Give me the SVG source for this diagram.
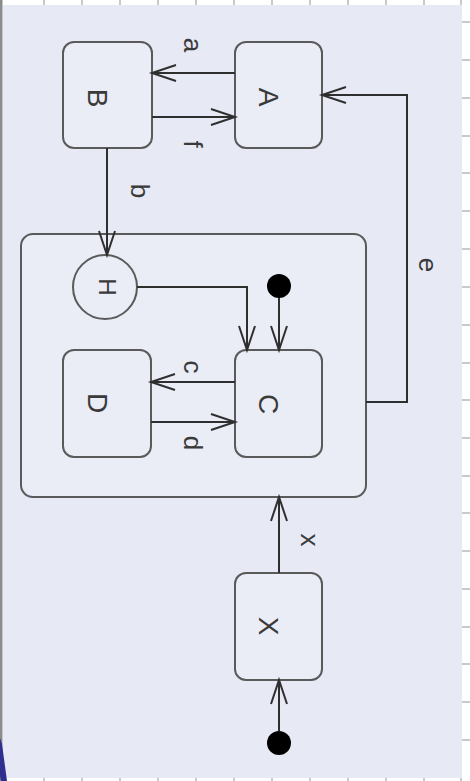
<svg xmlns="http://www.w3.org/2000/svg" width="470" height="781" viewBox="0 0 470 781">
<style>
.node{fill:#EAECF6;stroke:#5a5a5a;stroke-width:2}
.edge{fill:none;stroke:#2f2f2f;stroke-width:2}
.lbl{font-family:"Liberation Sans",Arial,sans-serif;fill:#3a3a3a;text-anchor:middle}
.nl{font-size:28px}
.el{font-size:26px}
.tick{stroke:#c9c9c9;stroke-width:2}
</style>
<defs>
<marker id="v" markerUnits="userSpaceOnUse" markerWidth="30" markerHeight="24" refX="26" refY="10" orient="auto" viewBox="0 0 30 20">
<path d="M2,2 L26,10 L2,18" fill="none" stroke="#2f2f2f" stroke-width="2"/>
</marker>
</defs>
<rect x="0" y="0" width="470" height="781" fill="#ffffff"/>
<rect x="3" y="5" width="459" height="773" fill="#E7E9F4"/>
<g id="grid">
<line class="tick" x1="44" y1="0" x2="44" y2="5"/><line class="tick" x1="82" y1="0" x2="82" y2="5"/><line class="tick" x1="120" y1="0" x2="120" y2="5"/><line class="tick" x1="158" y1="0" x2="158" y2="5"/><line class="tick" x1="196" y1="0" x2="196" y2="5"/><line class="tick" x1="234" y1="0" x2="234" y2="5"/><line class="tick" x1="272" y1="0" x2="272" y2="5"/><line class="tick" x1="310" y1="0" x2="310" y2="5"/><line class="tick" x1="348" y1="0" x2="348" y2="5"/><line class="tick" x1="386" y1="0" x2="386" y2="5"/><line class="tick" x1="424" y1="0" x2="424" y2="5"/><line class="tick" x1="461" y1="0" x2="461" y2="5"/>
<line class="tick" x1="44" y1="778" x2="44" y2="781"/><line class="tick" x1="82" y1="778" x2="82" y2="781"/><line class="tick" x1="120" y1="778" x2="120" y2="781"/><line class="tick" x1="158" y1="778" x2="158" y2="781"/><line class="tick" x1="196" y1="778" x2="196" y2="781"/><line class="tick" x1="234" y1="778" x2="234" y2="781"/><line class="tick" x1="272" y1="778" x2="272" y2="781"/><line class="tick" x1="310" y1="778" x2="310" y2="781"/><line class="tick" x1="348" y1="778" x2="348" y2="781"/><line class="tick" x1="386" y1="778" x2="386" y2="781"/><line class="tick" x1="424" y1="778" x2="424" y2="781"/><line class="tick" x1="461" y1="778" x2="461" y2="781"/>
<line class="tick" x1="462" y1="22" x2="470" y2="22"/><line class="tick" x1="462" y1="60" x2="470" y2="60"/><line class="tick" x1="462" y1="98" x2="470" y2="98"/><line class="tick" x1="462" y1="136" x2="470" y2="136"/><line class="tick" x1="462" y1="173" x2="470" y2="173"/><line class="tick" x1="462" y1="211" x2="470" y2="211"/><line class="tick" x1="462" y1="249" x2="470" y2="249"/><line class="tick" x1="462" y1="287" x2="470" y2="287"/><line class="tick" x1="462" y1="325" x2="470" y2="325"/><line class="tick" x1="462" y1="363" x2="470" y2="363"/><line class="tick" x1="462" y1="400" x2="470" y2="400"/><line class="tick" x1="462" y1="438" x2="470" y2="438"/><line class="tick" x1="462" y1="476" x2="470" y2="476"/><line class="tick" x1="462" y1="513" x2="470" y2="513"/><line class="tick" x1="462" y1="551" x2="470" y2="551"/><line class="tick" x1="462" y1="589" x2="470" y2="589"/><line class="tick" x1="462" y1="627" x2="470" y2="627"/><line class="tick" x1="462" y1="664" x2="470" y2="664"/><line class="tick" x1="462" y1="702" x2="470" y2="702"/><line class="tick" x1="462" y1="740" x2="470" y2="740"/>
<rect x="0" y="0" width="2.5" height="781" fill="#8c8c8c"/>
<polygon points="0,738 2,744 7,781 1,781 0,776" fill="#2f2f8f"/>
</g>
<g id="composite"><rect class="node" x="21" y="234" width="345" height="263" rx="12"/></g>
<g id="B"><rect class="node" x="63" y="42" width="89" height="106" rx="11"/><text class="lbl nl" transform="translate(87.5,98) rotate(90)">B</text></g>
<g id="A"><rect class="node" x="235" y="42" width="87" height="106" rx="11"/><text class="lbl nl" transform="translate(258.5,97) rotate(90)">A</text></g>
<g id="H"><circle class="node" cx="105" cy="287" r="32"/><text class="lbl nl" style="font-size:24px" transform="translate(98.5,287) rotate(90)">H</text></g>
<g id="init1"><circle cx="279" cy="286" r="12" fill="#000"/></g>
<g id="C"><rect class="node" x="235" y="350" width="87" height="107" rx="11"/><text class="lbl nl" transform="translate(258.5,404) rotate(90)">C</text></g>
<g id="D"><rect class="node" x="63" y="350" width="88" height="107" rx="11"/><text class="lbl nl" transform="translate(87.5,403) rotate(90)">D</text></g>
<g id="X"><rect class="node" x="235" y="573" width="87" height="107" rx="11"/><text class="lbl nl" transform="translate(258.5,626) rotate(90)">X</text></g>
<g id="init2"><circle cx="279" cy="743" r="12" fill="#000"/></g>
<g id="connectors">
<path class="edge" d="M235,73 L152,73" marker-end="url(#v)"/>
<path class="edge" d="M152,117 L235,117" marker-end="url(#v)"/>
<path class="edge" d="M107,148 L107,255" marker-end="url(#v)"/>
<path class="edge" d="M366,402 L407,402 L407,95 L322,95" marker-end="url(#v)"/>
<path class="edge" d="M137,287 L247,287 L247,350" marker-end="url(#v)"/>
<path class="edge" d="M279,298 L279,350" marker-end="url(#v)"/>
<path class="edge" d="M235,382 L151,382" marker-end="url(#v)"/>
<path class="edge" d="M151,422 L235,422" marker-end="url(#v)"/>
<path class="edge" d="M279,573 L279,497" marker-end="url(#v)"/>
<path class="edge" d="M279,731 L279,680" marker-end="url(#v)"/>
<text class="lbl el" transform="translate(184,45) rotate(90)">a</text>
<text class="lbl el" transform="translate(184,144) rotate(90)">f</text>
<text class="lbl el" transform="translate(131,191) rotate(90)">b</text>
<text class="lbl el" transform="translate(419,265) rotate(90)">e</text>
<text class="lbl el" transform="translate(184,367) rotate(90)">c</text>
<text class="lbl el" transform="translate(184,443) rotate(90)">d</text>
<text class="lbl el" transform="translate(301,540) rotate(90)">x</text>
</g>
</svg>
